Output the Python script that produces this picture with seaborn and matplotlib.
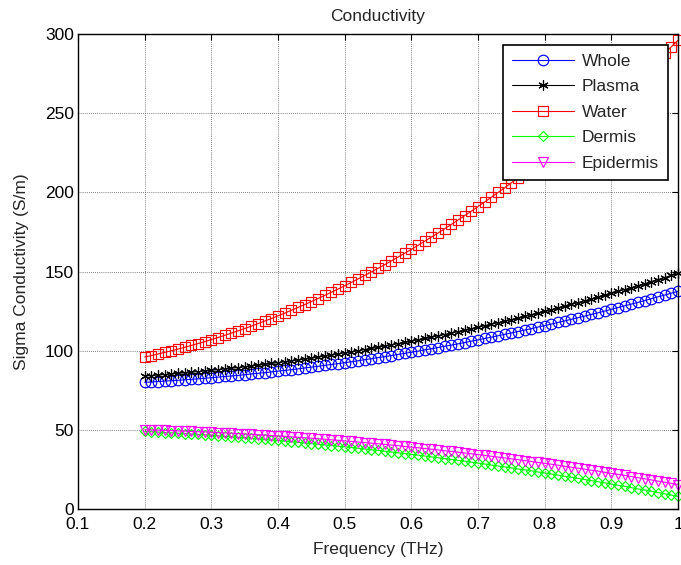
import matplotlib
matplotlib.use("Agg")
import matplotlib.pyplot as plt
import seaborn as sns
import pandas as pd

freq = [0.20, 0.21, 0.22, 0.23, 0.24, 0.25, 0.26, 0.27, 0.28, 0.29,
        0.30, 0.31, 0.32, 0.33, 0.34, 0.35, 0.36, 0.37, 0.38, 0.39,
        0.40, 0.41, 0.42, 0.43, 0.44, 0.45, 0.46, 0.47, 0.48, 0.49,
        0.50, 0.51, 0.52, 0.53, 0.54, 0.55, 0.56, 0.57, 0.58, 0.59,
        0.60, 0.61, 0.62, 0.63, 0.64, 0.65, 0.66, 0.67, 0.68, 0.69,
        0.70, 0.71, 0.72, 0.73, 0.74, 0.75, 0.76, 0.77, 0.78, 0.79,
        0.80, 0.81, 0.82, 0.83, 0.84, 0.85, 0.86, 0.87, 0.88, 0.89,
        0.90, 0.91, 0.92, 0.93, 0.94, 0.95, 0.96, 0.97, 0.98, 0.99, 1.00]

whole = [80.0, 80.2, 80.5, 80.8, 81.0, 81.3, 81.6, 81.9, 82.2, 82.6,
         82.9, 83.3, 83.7, 84.0, 84.4, 84.8, 85.3, 85.7, 86.1, 86.6,
         87.1, 87.5, 88.0, 88.5, 89.1, 89.6, 90.1, 90.7, 91.3, 91.8,
         92.4, 93.0, 93.6, 94.3, 94.9, 95.6, 96.2, 96.9, 97.6, 98.3,
         99.0, 99.7, 100.5, 101.2, 102.0, 102.8, 103.5, 104.3, 105.1, 106.0,
         106.8, 107.7, 108.5, 109.4, 110.3, 111.2, 112.1, 113.0, 113.9, 114.9,
         115.8, 116.8, 117.8, 118.8, 119.8, 120.8, 121.8, 122.9, 123.9, 125.0,
         126.1, 127.2, 128.3, 129.4, 130.5, 131.6, 132.8, 134.0, 135.1, 136.3, 137.5]

plasma = [84.0, 84.3, 84.6, 84.9, 85.3, 85.6, 86.0, 86.4, 86.7, 87.1,
          87.6, 88.0, 88.4, 88.9, 89.3, 89.8, 90.3, 90.8, 91.3, 91.9,
          92.4, 93.0, 93.5, 94.1, 94.7, 95.3, 95.9, 96.6, 97.2, 97.9,
          98.6, 99.2, 99.9, 100.7, 101.4, 102.1, 102.9, 103.6, 104.4, 105.2,
          106.0, 106.8, 107.7, 108.5, 109.3, 110.2, 111.1, 112.0, 112.9, 113.8,
          114.8, 115.7, 116.7, 117.6, 118.6, 119.6, 120.6, 121.7, 122.7, 123.7,
          124.8, 125.9, 127.0, 128.1, 129.2, 130.3, 131.5, 132.6, 133.8, 135.0,
          136.2, 137.4, 138.6, 139.8, 141.1, 142.3, 143.6, 144.9, 146.2, 147.5, 148.8]

water = [96.0, 96.9, 97.9, 98.9, 99.9, 101.0, 102.1, 103.3, 104.5, 105.7,
         107.0, 108.3, 109.7, 111.1, 112.5, 114.0, 115.5, 117.1, 118.7, 120.3,
         122.0, 123.7, 125.5, 127.3, 129.1, 131.0, 132.9, 134.9, 136.9, 138.9,
         141.0, 143.1, 145.3, 147.5, 149.7, 152.0, 154.3, 156.7, 159.1, 161.5,
         164.0, 166.5, 169.1, 171.7, 174.3, 177.0, 179.7, 182.5, 185.3, 188.1,
         191.0, 193.9, 196.9, 199.9, 202.9, 206.0, 209.1, 212.3, 215.5, 218.7,
         222.0, 225.3, 228.7, 232.1, 235.5, 239.0, 242.5, 246.1, 249.7, 253.3,
         257.0, 260.7, 264.5, 268.3, 272.1, 276.0, 279.9, 283.9, 287.9, 291.9, 296.0]

dermis = [49.0, 48.8, 48.6, 48.3, 48.1, 47.8, 47.6, 47.3, 47.1, 46.8,
          46.5, 46.2, 45.9, 45.6, 45.3, 45.0, 44.6, 44.3, 44.0, 43.6,
          43.3, 42.9, 42.5, 42.1, 41.7, 41.3, 40.9, 40.5, 40.1, 39.7,
          39.3, 38.8, 38.4, 37.9, 37.4, 37.0, 36.5, 36.0, 35.5, 35.0,
          34.5, 34.0, 33.5, 32.9, 32.4, 31.8, 31.3, 30.7, 30.2, 29.6,
          29.0, 28.4, 27.8, 27.2, 26.6, 26.0, 25.3, 24.7, 24.1, 23.4,
          22.8, 22.1, 21.4, 20.7, 20.0, 19.3, 18.6, 17.9, 17.2, 16.5,
          15.8, 15.0, 14.3, 13.5, 12.7, 12.0, 11.2, 10.4, 9.6, 8.8, 8.0]

epidermis = [50.0, 49.9, 49.8, 49.6, 49.5, 49.3, 49.2, 49.0, 48.8, 48.7,
             48.5, 48.3, 48.1, 47.9, 47.6, 47.4, 47.2, 46.9, 46.7, 46.4,
             46.2, 45.9, 45.6, 45.3, 45.0, 44.7, 44.4, 44.1, 43.7, 43.4,
             43.0, 42.7, 42.3, 41.9, 41.6, 41.2, 40.8, 40.4, 40.0, 39.5,
             39.1, 38.7, 38.2, 37.8, 37.3, 36.8, 36.4, 35.9, 35.4, 34.9,
             34.4, 33.9, 33.3, 32.8, 32.3, 31.7, 31.2, 30.6, 30.0, 29.4,
             28.9, 28.3, 27.7, 27.0, 26.4, 25.8, 25.2, 24.5, 23.9, 23.2,
             22.5, 21.9, 21.2, 20.5, 19.8, 19.1, 18.4, 17.6, 16.9, 16.2, 15.4]

series_names = ["Whole", "Plasma", "Water", "Dermis", "Epidermis"]
series_values = [whole, plasma, water, dermis, epidermis]
series_colors = ["#0000ff", "#000000", "#ff0000", "#00ff00", "#ff00ff"]
series_markers = ["o", (6, 2, 0), "s", "D", "v"]
series_msizes = [7.6, 7.4, 7.8, 5.6, 7.8]

x_ticks = [0.1, 0.2, 0.3, 0.4, 0.5, 0.6, 0.7, 0.8, 0.9, 1.0]
x_ticklabels = ["0.1", "0.2", "0.3", "0.4", "0.5", "0.6", "0.7", "0.8", "0.9", "1"]
y_ticks = [0, 50, 100, 150, 200, 250, 300]

FS = 12.5

sns.set_style("white")
plt.rcParams["font.family"] = ["Liberation Sans", "DejaVu Sans"]
plt.rcParams["font.size"] = FS

fig = plt.figure(figsize=(6.81, 5.65), dpi=100)
ax = fig.add_axes([78 / 681, 56 / 565, 600 / 681, 475 / 565])

for name, vals, col, mk, ms in zip(series_names, series_values, series_colors,
                                   series_markers, series_msizes):
    df = pd.DataFrame({"freq": freq, "val": vals})
    sns.lineplot(data=df, x="freq", y="val", ax=ax, color=col, marker=mk,
                 markersize=ms, markerfacecolor="none", markeredgecolor=col,
                 markeredgewidth=0.85, linewidth=0.8, label=name, clip_on=False,
                 legend=False)

ax.set_xlim(0.1, 1.0)
ax.set_ylim(0, 300)
ax.set_xticks(x_ticks)
ax.set_xticklabels(x_ticklabels)
ax.set_yticks(y_ticks)
ax.tick_params(direction="in", length=4, width=0.8, top=True, right=True,
               labelsize=FS, colors="black")
ax.tick_params(axis="x", pad=6)
ax.tick_params(axis="y", pad=3)
ax.grid(True, color="0.35", linestyle=(0, (1, 1.5)), linewidth=0.6)
for sp in ax.spines.values():
    sp.set_color("black")
    sp.set_linewidth(1.0)
ax.set_axisbelow(True)

ax.set_title("Conductivity", fontsize=FS, pad=9)
ax.set_xlabel("Frequency (THz)", fontsize=FS, labelpad=7)
ax.set_ylabel("Sigma Conductivity (S/m)", fontsize=FS, labelpad=11)

leg = ax.legend(loc="upper right", bbox_to_anchor=(0.983, 0.977),
                borderaxespad=0, frameon=True, fancybox=False, framealpha=1,
                edgecolor="black", handlelength=3.6, labelspacing=0.6,
                fontsize=FS, borderpad=0.5, handletextpad=0.45)
leg.get_frame().set_linewidth(1.2)

fig.savefig("out.png", dpi=100)
